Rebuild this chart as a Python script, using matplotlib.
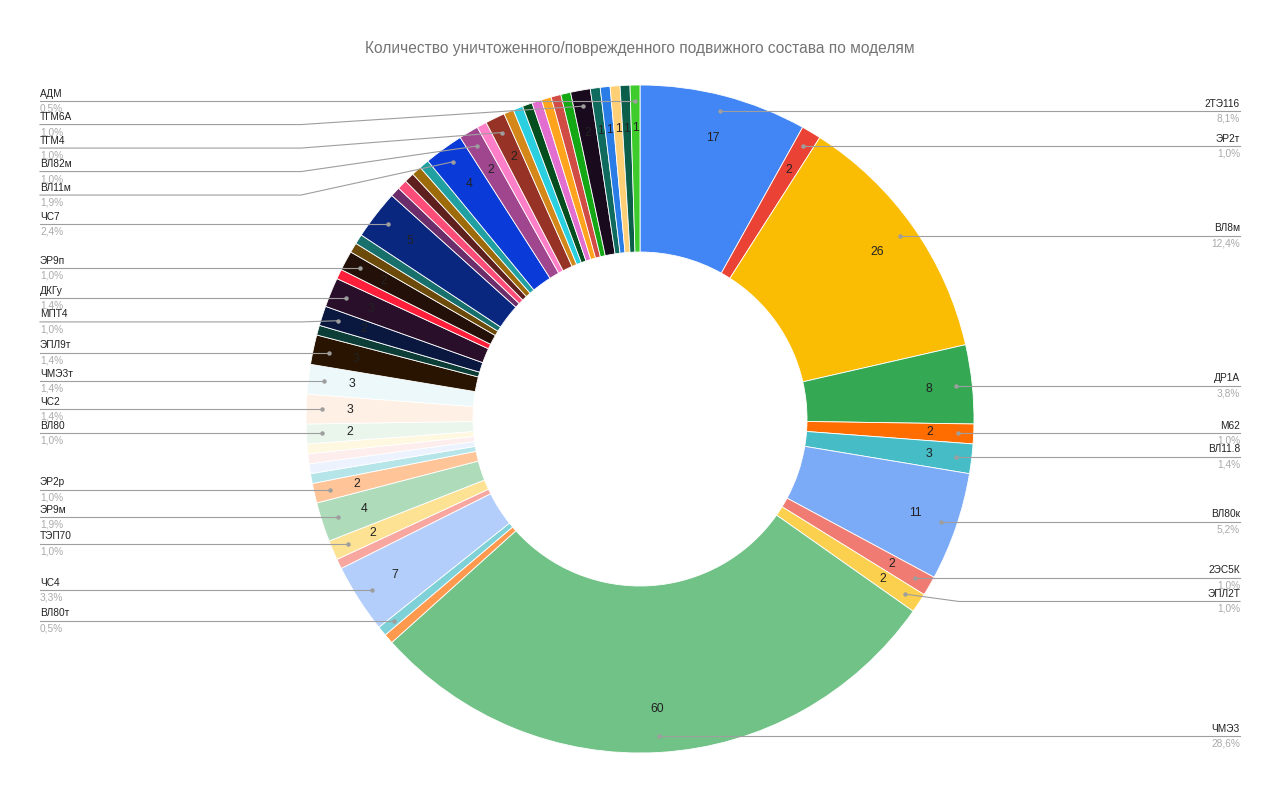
import numpy as np
import matplotlib.pyplot as plt

plt.rcParams['font.family'] = ['Liberation Sans', 'DejaVu Sans']

title = 'Количество уничтоженного/поврежденного подвижного состава по моделям'

# slices clockwise from 12 o'clock; '' = slice without a label in the source
models = ['2ТЭ116', 'ЭР2т', 'ВЛ8м', 'ДР1А', 'М62', 'ВЛ11.8', 'ВЛ80к', '2ЭС5К', 'ЭПЛ2Т', 'ЧМЭ3',
          '', 'ВЛ80т', 'ЧС4', '', 'ТЭП70', 'ЭР9м', 'ЭР2р', '', '', '', '', 'ВЛ80', 'ЧС2', 'ЧМЭ3т',
          'ЭПЛ9т', '', 'МПТ4', 'ДКГу', '', 'ЭР9п', '', '', 'ЧС7', '', '', '', '', '', 'ВЛ11м', 'ВЛ82м', '', 'ТГМ4',
          '', '', '', '', '', '', '', 'ТГМ6А', '', '', '', '', 'АДМ']
counts = [17, 2, 26, 8, 2, 3, 11, 2, 2, 60,
          1, 1, 7, 1, 2, 4, 2, 1, 1, 1, 1, 2, 3, 3,
          3, 1, 2, 3, 1, 2, 1, 1, 5, 1, 1, 1, 1, 1, 4, 2, 1, 2,
          1, 1, 1, 1, 1, 1, 1, 2, 1, 1, 1, 1, 1]
colors = ['#4285F4', '#EA4335', '#FBBC04', '#34A853', '#FF6D01', '#46BDC6', '#7BAAF7', '#F07B72', '#FCD04F', '#71C287',
          '#FF994D', '#7ED1D7', '#B3CEFB', '#F7A7A0', '#FDE293', '#AEDCBA', '#FFC599', '#B5E5E8', '#ECF3FE', '#FDEDEC',
          '#FEF8E1', '#EAF6EC', '#FFF0E6', '#ECF8F9',
          '#281400', '#0C3D36', '#0A1840', '#2A0F2A', '#FF1F3A', '#231008', '#6B4A0A', '#17706B', '#0A2780', '#6B2E6B',
          '#FF4D7A', '#5E1F1F', '#9E6B0A', '#20A0A0', '#0A3AD8', '#A0468F', '#FF7EC8', '#963226',
          '#D4881A', '#2BD0E0', '#034D1E', '#E26FD0', '#FFA41C', '#D14C44', '#15A815',
          '#1A0A1E', '#0E6B5E', '#2A7DE6', '#FFCF76', '#0B5E4A', '#3DCC2B']

W, H = 1280, 793
cx, cy, R = 640, H - 419, 334

fig = plt.figure(figsize=(12.8, 7.93), dpi=100)
ax = fig.add_axes([0, 0, 1, 1])
ax.pie(counts, colors=colors, startangle=90, counterclock=False, center=(cx, cy), radius=R,
       wedgeprops=dict(width=R / 2, edgecolor='white', linewidth=0.6))
ax.set_xlim(0, W)
ax.set_ylim(0, H)
ax.set_aspect('equal')
ax.axis('off')

total = sum(counts)
cum = np.cumsum(counts) - np.array(counts) / 2
theta = np.radians(90 - 360 * cum / total)

# values inside the ring
for i, v in enumerate(counts):
    if v >= 2 or i >= len(counts) - 5:
        ax.text(cx + 0.87 * R * np.cos(theta[i]), cy + 0.87 * R * np.sin(theta[i]), str(v),
                ha='center', va='center', fontsize=8.8, color='#222222')

# leader labels
gap = 23.5
for side in ('left', 'right'):
    items = []
    for i, name in enumerate(models):
        if not name:
            continue
        dx = cx + 0.952 * R * np.cos(theta[i])
        dy = cy + 0.952 * R * np.sin(theta[i])
        if (dx < cx) == (side == 'left'):
            items.append((dy, dx, i))
    items.sort(reverse=True)  # top to bottom
    prev = None
    for dy, dx, i in items:
        ly = dy if prev is None else min(dy, prev - gap)
        prev = ly
        if side == 'left':
            tx, bend, ha = 40, cx - R - 5, 'left'
        else:
            tx, bend, ha = 1240, cx + R - 15, 'right'
        ax.plot([tx, bend, dx], [ly, ly, dy], color='#9E9E9E', lw=0.8)
        ax.plot(dx, dy, 'o', color='#9E9E9E', ms=2.2)
        ax.text(tx, ly + 7.5, models[i], ha=ha, va='center', fontsize=7.3, color='#222222')
        pct = f'{100 * counts[i] / total:.1f}%'.replace('.', ',')
        ax.text(tx, ly - 7.5, pct, ha=ha, va='center', fontsize=7.3, color='#AAAAAA')

ax.text(cx, H - 48, title, ha='center', va='center', fontsize=11.2, color='#757575')

fig.savefig('out.png', dpi=100, facecolor='white')
